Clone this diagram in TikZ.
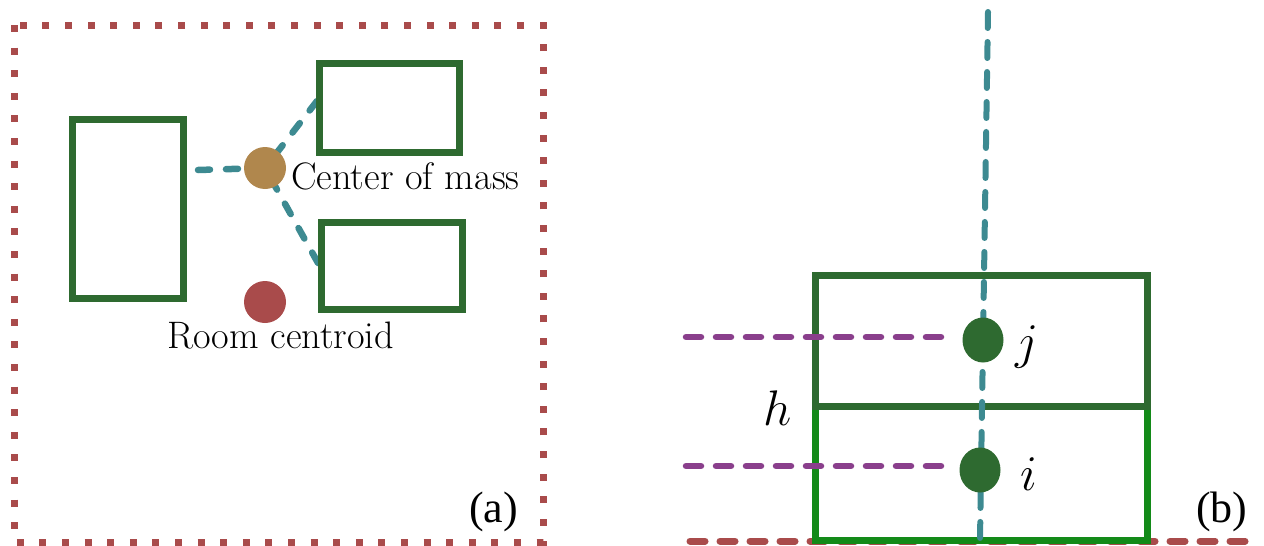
\RequirePackage{fix-cm}
\documentclass[tikz,border=0pt]{standalone}
\usepackage{fontspec}
\newfontfamily\timesf{Liberation Serif}
\usetikzlibrary{backgrounds,shapes.geometric}
\definecolor{dgreen}{HTML}{2E6A30}
\definecolor{bgreen}{HTML}{138A18}
\definecolor{tealc}{HTML}{3D8A91}
\definecolor{purp}{HTML}{8A3F8C}
\definecolor{redc}{HTML}{A94B4B}
\definecolor{tanc}{HTML}{B0874D}
\definecolor{dotgreen}{HTML}{2E6A30}
\begin{document}
\begin{tikzpicture}[x=1pt,y=-1pt,
  room/.style={rectangle, draw=dgreen, line width=7pt, inner sep=0pt},
  cdot/.style={circle, inner sep=0pt, minimum size=42pt},
  tealdash/.style={draw=tealc, line width=6.5pt, line cap=round, dash pattern=on 12pt off 16pt},
  vdash/.style={draw=tealc, line width=6pt, line cap=round, dash pattern=on 16pt off 14pt},
  purpdash/.style={draw=purp, line width=6.5pt, line cap=round, dash pattern=on 15pt off 15pt},
  reddash/.style={draw=redc, line width=7pt, line cap=round, dash pattern=on 15pt off 15pt},
  reddot/.style={draw=redc, line width=7pt, dash pattern=on 7pt off 15.6pt},
  lbl/.style={inner sep=0pt, font=\fontsize{38.3}{42}\selectfont},
  mlbl/.style={inner sep=0pt, font=\fontsize{50}{56}\selectfont},
  gdot/.style={ellipse, fill=dotgreen, inner sep=0pt, minimum width=41pt, minimum height=45pt},
  tag/.style={inner sep=0pt, font=\timesf\fontsize{44}{48}\selectfont}]
\useasboundingbox (0,0) rectangle (1264,546);

% ---------- (a) ----------
\draw[reddot] (14,25) rectangle (543,542);
\node[room, minimum width=111pt, minimum height=179pt] (left) at (127.5,208.5) {};
\node[room, minimum width=140pt, minimum height=89pt] (tr) at (389,107.5) {};
\node[room, minimum width=141pt, minimum height=87pt] (br) at (391.5,266) {};
\node[cdot, fill=tanc] (com) at (265,168) {};
\node[cdot, fill=redc] (rc) at (265,302) {};
\coordinate (a1) at (198,170);
\coordinate (a2) at (317,101);
\coordinate (a3) at (318,263);
\begin{pgfonlayer}{background}
\draw[tealdash] (a1) -- (com.center);
\draw[tealdash] (a2) -- (com.center);
\draw[tealdash] (a3) -- (com.center);
\end{pgfonlayer}
\node[lbl, anchor=base west] (comlbl) at (291,189) {Center of mass};
\node[lbl, anchor=base west] (rclbl) at (167,348) {Room centroid};
\node[tag, anchor=base west] (taga) at (469,522) {(a)};

% ---------- (b) ----------
\draw[reddash] (690,541) -- (1258,541);
\node[rectangle, draw=bgreen, line width=7pt, inner sep=0pt, minimum width=332pt, minimum height=134pt] (lower) at (981,473) {};
\node[room, minimum width=332pt, minimum height=131pt] (upper) at (981,340.5) {};
\coordinate (vt) at (988,12);
\coordinate (vb) at (980,540);
\draw[vdash] (vt) -- (vb);
\coordinate (pj) at (686,337);
\coordinate (pje) at (946,337);
\coordinate (pi) at (686,466);
\coordinate (pie) at (946,466);
\node[gdot] (j) at (983,340) {};
\node[gdot] (i) at (980,470) {};
\draw[purpdash] (pj) -- (pje);
\draw[purpdash] (pi) -- (pie);
\node[mlbl, anchor=base west] (jl) at (1015,358) {$j$};
\node[mlbl, anchor=base west] (il) at (1020,490) {$i$};
\node[mlbl, anchor=base west] (hl) at (763,425) {$h$};
\node[tag, anchor=base west] (tagb) at (1196,522) {(b)};
\end{tikzpicture}
\end{document}
